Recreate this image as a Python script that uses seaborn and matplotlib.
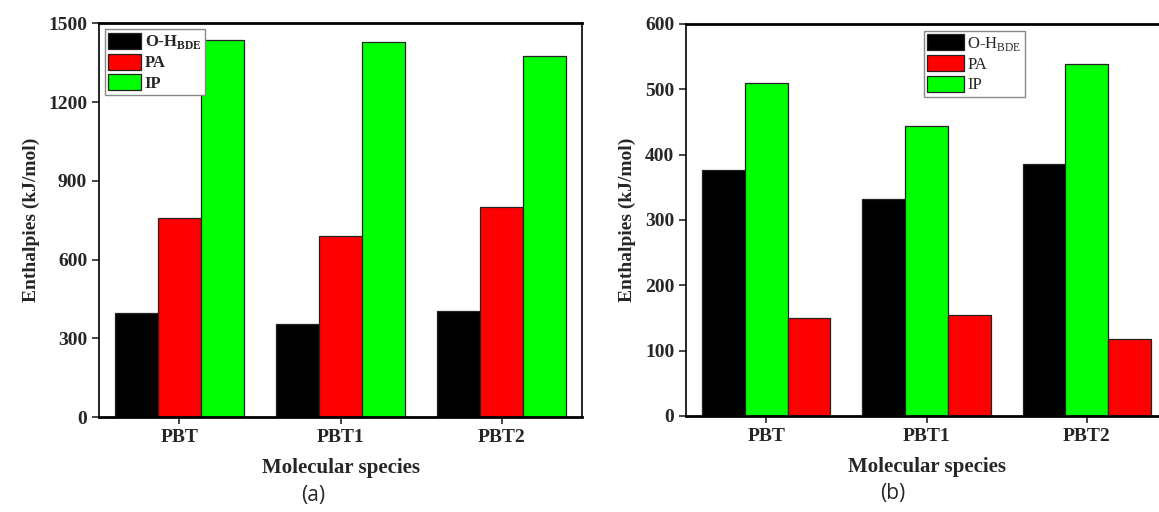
import pandas as pd
import matplotlib
matplotlib.use('Agg')
import matplotlib.pyplot as plt
import matplotlib.patches as mpatches
import seaborn as sns

# データ
species = ['PBT', 'PBT1', 'PBT2']
series_names = ['O-H', 'PA', 'IP']
colors = {'O-H': '#000000', 'PA': '#ff0000', 'IP': '#00ff00'}

# (a)
oh_a = [396, 356, 404]
pa_a = [757, 691, 802]
ip_a = [1436, 1428, 1377]

# (b) bars drawn in order O-H, IP, PA
oh_b = [376, 332, 385]
ip_b = [510, 443, 539]
pa_b = [150, 154, 118]


def make_df(oh, pa, ip):
    rows = []
    for i, s in enumerate(species):
        rows.append((s, 'O-H', oh[i]))
        rows.append((s, 'PA', pa[i]))
        rows.append((s, 'IP', ip[i]))
    return pd.DataFrame(rows, columns=['species', 'series', 'value'])


df_a = make_df(oh_a, pa_a, ip_a)
df_b = make_df(oh_b, pa_b, ip_b)

sns.set_style('ticks')
plt.rcParams['font.family'] = ['Liberation Serif', 'DejaVu Serif']
plt.rcParams['mathtext.fontset'] = 'custom'
plt.rcParams['mathtext.rm'] = 'Liberation Serif'
plt.rcParams['mathtext.bf'] = 'Liberation Serif:bold'

fig = plt.figure(figsize=(11.59, 5.12), dpi=100)
ax1 = fig.add_axes([0.0854, 0.1855, 0.4168, 0.769])
ax2 = fig.add_axes([0.5919, 0.1875, 0.415, 0.766])


def draw(ax, df, order, ymax, yticks, legend_labels, legend_bold, legend_kw):
    sns.barplot(data=df, x='species', y='value', hue='series', hue_order=order,
                palette=colors, width=0.8, gap=0, edgecolor='#222222',
                linewidth=0.9, saturation=1, ax=ax, legend=False)
    ax.set_xlim(-0.5, 2.5)
    ax.set_ylim(0, ymax)
    ax.set_yticks(yticks)
    for sp in ax.spines.values():
        sp.set_visible(True)
        sp.set_color('black')
    ax.spines['left'].set_linewidth(1.2)
    ax.spines['right'].set_linewidth(1.2)
    ax.spines['top'].set_linewidth(2)
    ax.spines['bottom'].set_linewidth(2)
    ax.tick_params(axis='both', direction='out', length=5, width=1.2,
                   labelsize=14, top=False, right=False)
    for lab in ax.get_xticklabels() + ax.get_yticklabels():
        lab.set_fontweight('bold')
    ax.set_xlabel('Molecular species', fontsize=15, fontweight='bold', labelpad=9)
    ax.set_ylabel('Enthalpies (kJ/mol)', fontsize=14, fontweight='bold', labelpad=6)
    handles = [mpatches.Patch(facecolor=colors[n], edgecolor='#222222', linewidth=0.9)
               for n in series_names]
    leg = ax.legend(handles, legend_labels, fancybox=False, edgecolor='#888888',
                    framealpha=1, handletextpad=0.2, borderpad=0.2,
                    prop={'weight': 'bold' if legend_bold else 'normal',
                          'size': legend_kw.pop('size')},
                    **legend_kw)
    leg.get_frame().set_linewidth(1.0)


draw(ax1, df_a, ['O-H', 'PA', 'IP'], 1500, [0, 300, 600, 900, 1200, 1500],
     [r'O-H$_\mathbf{BDE}$', 'PA', 'IP'], True,
     {'loc': 'upper left', 'bbox_to_anchor': (0.012, 0.985), 'borderaxespad': 0,
      'size': 12, 'handlelength': 2.0, 'handleheight': 1.1, 'labelspacing': 0.15})
draw(ax2, df_b, ['O-H', 'IP', 'PA'], 600, [0, 100, 200, 300, 400, 500, 600],
     [r'O-H$_\mathrm{BDE}$', 'PA', 'IP'], False,
     {'loc': 'upper left', 'bbox_to_anchor': (0.495, 0.982), 'borderaxespad': 0,
      'size': 12, 'handlelength': 2.2, 'handleheight': 1.1, 'labelspacing': 0.15})
ax2.spines['right'].set_visible(False)

fig.text(0.27, 0.033, '(a)', fontsize=15, family=['Open Sans', 'DejaVu Sans'],
         ha='center', va='center')
fig.text(0.77, 0.037, '(b)', fontsize=15, family=['Open Sans', 'DejaVu Sans'],
         ha='center', va='center')

fig.savefig('out.png', dpi=100)
